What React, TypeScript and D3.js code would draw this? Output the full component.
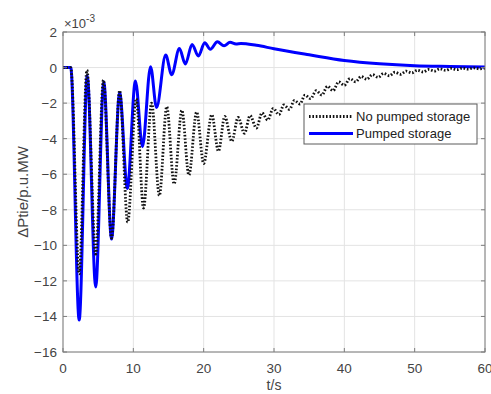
import * as d3 from 'd3';

// time axis (s) and tie-line power deviation (x1e-3 p.u.MW)
const pumpedTime = [
  0, 1.1, 2.3, 3.45, 4.65, 5.8, 6.9, 8.05, 9.15, 10.3, 11.3, 12.45, 13.3, 14.6, 15.45,
  16.55, 17.4, 18.35, 19.25, 20.15, 20.95, 21.95, 22.9, 23.75, 24.6, 25.3, 27.5, 30, 35,
  40, 45, 50, 55, 60,
];
const pumpedDelta = [
  0, 0, -14.2, -0.45, -12.35, -0.8, -9.65, -1.4, -6.8, -0.75, -4.45, 0.05, -2.25, 0.7, -0.4,
  1.07, 0.2, 1.3, 0.65, 1.4, 1.03, 1.45, 1.22, 1.42, 1.33, 1.36, 1.25, 1.06, 0.72,
  0.4, 0.21, 0.1, 0.06, 0.03,
];

const noPumpTime = [
  0, 1.1, 2.3, 3.4, 4.65, 5.75, 6.9, 8.05, 9.2, 10.4, 11.45, 12.6, 13.7, 14.75, 15.8,
  16.9, 17.9, 19.0, 20.0, 21.15, 22.1, 23.0, 24.0, 24.9, 25.8, 26.6, 27.5, 28.3, 29.1,
  29.9, 30.7, 31.4, 32.2, 32.9, 33.7, 34.4, 35.2, 36.0, 36.8, 37.6, 38.4, 39.2, 40.0,
  40.8, 41.6, 42.4, 43.2, 44.0, 44.8, 45.6, 46.4, 47.2, 48.0, 48.8, 49.6, 50.4, 51.2,
  52.0, 52.8, 53.6, 54.4, 55.2, 56.0, 56.8, 57.6, 58.4, 59.2, 60,
];
const noPumpDelta = [
  0, 0, -11.6, -0.15, -10.5, -0.7, -9.6, -1.3, -8.7, -1.75, -7.9, -2.0, -7.2, -2.2, -6.55,
  -2.4, -6.05, -2.5, -5.4, -2.65, -4.7, -2.75, -4.15, -2.8, -3.7, -2.7, -3.4, -2.55, -2.95,
  -2.3, -2.65, -2.1, -2.35, -1.85, -2.05, -1.55, -1.75, -1.3, -1.55, -1.05, -1.3, -0.8, -1.0,
  -0.62, -0.8, -0.5, -0.66, -0.4, -0.55, -0.33, -0.46, -0.26, -0.38, -0.2, -0.3, -0.15, -0.25,
  -0.11, -0.2, -0.07, -0.16, -0.05, -0.12, -0.03, -0.09, -0.02, -0.07, -0.04,
];

const xTicks = [0, 10, 20, 30, 40, 50, 60];
const yTicks = [-16, -14, -12, -10, -8, -6, -4, -2, 0, 2];

const seriesNames = ['No pumped storage', 'Pumped storage'];

const W = 491;
const H = 394;
const margin = { top: 32, right: 6, bottom: 42, left: 63 };
const FONT = '"Liberation Sans", Arial, sans-serif';
const TEXT = '#444';
const DOTS = '1.6 1.8';

export default function App() {
  const x = d3.scaleLinear().domain([0, 60]).range([margin.left, W - margin.right]);
  const y = d3.scaleLinear().domain([-16, 2]).range([H - margin.bottom, margin.top]);
  const [x0, x1] = x.range();
  const [y0, y1] = y.range();

  const line = d3
    .line<[number, number]>()
    .x((d) => x(d[0]))
    .y((d) => y(d[1]))
    .curve(d3.curveMonotoneX);

  const pumped = line(pumpedTime.map((t, i) => [t, pumpedDelta[i]] as [number, number])) ?? '';
  const noPump = line(noPumpTime.map((t, i) => [t, noPumpDelta[i]] as [number, number])) ?? '';

  const fmt = (v: number) => (v < 0 ? `\u2212${Math.abs(v)}` : `${v}`);

  const lx = 304;
  const ly = 104;

  return (
    <div style={{ position: 'fixed', left: 0, top: 0 }}>
      <svg width={W} height={H} viewBox={`0 0 ${W} ${H}`} fontFamily={FONT}>
        <rect width={W} height={H} fill="#fff" />
        <defs>
          <clipPath id="plot-clip">
            <rect x={x0} y={y1} width={x1 - x0} height={y0 - y1} />
          </clipPath>
        </defs>

        {/* grid */}
        {xTicks.map((t) => (
          <line key={`gx${t}`} x1={x(t)} x2={x(t)} y1={y1} y2={y0} stroke="#e3e3e3" strokeWidth={1} />
        ))}
        {yTicks.map((t) => (
          <line key={`gy${t}`} x1={x0} x2={x1} y1={y(t)} y2={y(t)} stroke="#e3e3e3" strokeWidth={1} />
        ))}

        {/* curves */}
        <g clipPath="url(#plot-clip)">
          <path d={pumped} fill="none" stroke="#0000ff" strokeWidth={3} strokeLinejoin="round" />
          <path d={noPump} fill="none" stroke="#111" strokeWidth={2.8} strokeDasharray={DOTS} />
        </g>

        {/* box + inward ticks */}
        <rect x={x0} y={y1} width={x1 - x0} height={y0 - y1} fill="none" stroke="#7d7d7d" strokeWidth={1} />
        {xTicks.map((t) => (
          <g key={`tx${t}`} stroke="#7d7d7d">
            <line x1={x(t)} x2={x(t)} y1={y0} y2={y0 - 4} />
            <line x1={x(t)} x2={x(t)} y1={y1} y2={y1 + 4} />
          </g>
        ))}
        {yTicks.map((t) => (
          <g key={`ty${t}`} stroke="#7d7d7d">
            <line x1={x0} x2={x0 + 4} y1={y(t)} y2={y(t)} />
            <line x1={x1} x2={x1 - 4} y1={y(t)} y2={y(t)} />
          </g>
        ))}

        {/* tick labels */}
        {xTicks.map((t) => (
          <text key={`lx${t}`} x={x(t)} y={y0 + 21} textAnchor="middle" fontSize={13.5} fill={TEXT}>
            {t}
          </text>
        ))}
        {yTicks.map((t) => (
          <text key={`ly${t}`} x={x0 - 6} y={y(t) + 5} textAnchor="end" fontSize={13.5} fill={TEXT}>
            {fmt(t)}
          </text>
        ))}

        {/* exponent */}
        <text x={x0 + 1} y={28} fontSize={13} fill={TEXT}>
          {'\u00d710'}
          <tspan dy={-6} fontSize={10}>
            -3
          </tspan>
        </text>

        {/* axis titles */}
        <text x={(x0 + x1) / 2} y={390} textAnchor="middle" fontSize={14} fill={TEXT}>
          t/s
        </text>
        <text
          transform={`translate(28, ${(y0 + y1) / 2}) rotate(-90)`}
          textAnchor="middle"
          fontSize={15}
          fill={TEXT}
        >
          {'\u0394Ptie/p.u.MW'}
        </text>

        {/* legend */}
        <rect x={lx} y={ly} width={173} height={40} fill="#fff" stroke="#5a5a5a" strokeWidth={1} />
        <line x1={lx + 5} x2={lx + 49} y1={ly + 12.5} y2={ly + 12.5} stroke="#111" strokeWidth={2.8} strokeDasharray={DOTS} />
        <line x1={lx + 5} x2={lx + 49} y1={ly + 29.5} y2={ly + 29.5} stroke="#0000ff" strokeWidth={3} />
        <text x={lx + 52} y={ly + 17} fontSize={13} fill="#222">
          {seriesNames[0]}
        </text>
        <text x={lx + 52} y={ly + 34} fontSize={13} fill="#222">
          {seriesNames[1]}
        </text>
      </svg>
    </div>
  );
}
